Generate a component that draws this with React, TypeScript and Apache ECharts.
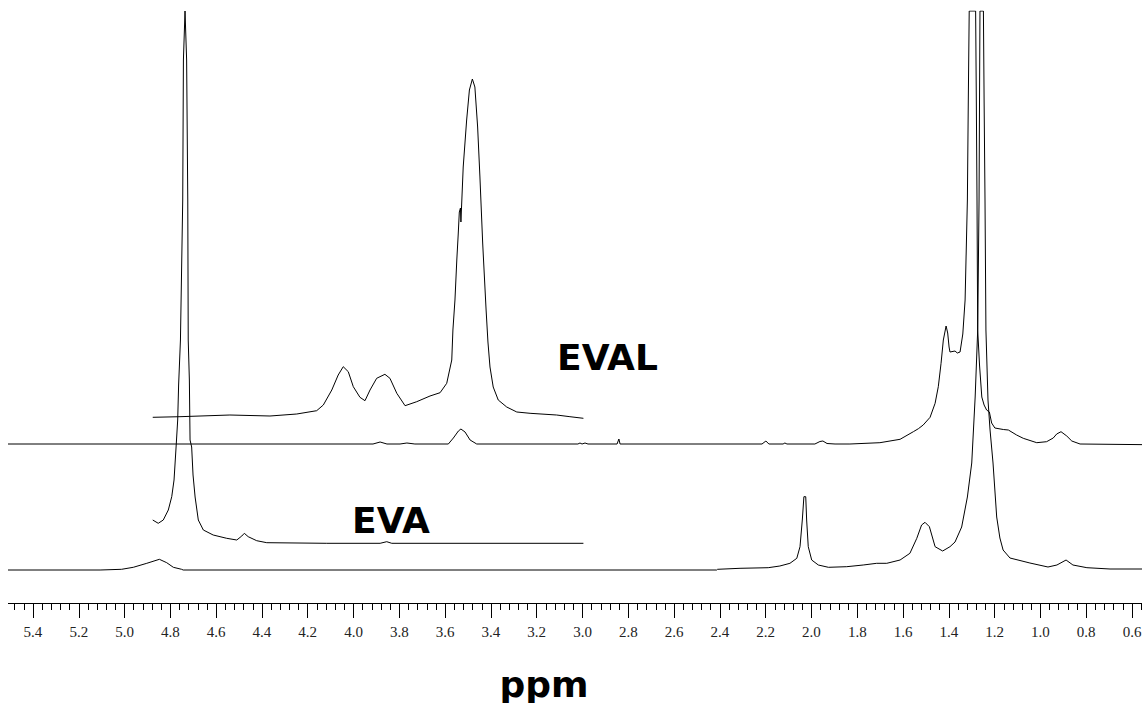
import React, { useEffect, useRef } from "react";
import * as echarts from "echarts";

// x-axis (ppm) tick settings
const xMin = 0.4;
const xMax = 5.6;
const xInterval = 0.2;

// EVAL full spectrum
const evalMainPpm = [5.6, 3.915, 3.884, 3.854, 3.797, 3.767, 3.732, 3.586, 3.564, 3.542, 3.531, 3.513, 3.491, 3.462, 3.02, 3.011, 3.002, 2.989, 2.976, 2.849, 2.841, 2.836, 2.216, 2.199, 2.186, 2.124, 2.116, 2.107, 1.985, 1.963, 1.95, 1.932, 1.897, 1.832, 1.701, 1.613, 1.555, 1.533, 1.512, 1.482, 1.46, 1.446, 1.434, 1.424, 1.412, 1.405, 1.399, 1.395, 1.373, 1.363, 1.351, 1.339, 1.329, 1.319, 1.315, 1.311, 1.283, 1.28, 1.277, 1.274, 1.266, 1.256, 1.246, 1.235, 1.223, 1.213, 1.199, 1.162, 1.14, 1.104, 1.075, 1.016, 0.973, 0.944, 0.929, 0.91, 0.885, 0.863, 0.827, 0.4];
const evalMainInt = [0, 0, 2, 0, 0, 1, 0, 0, 6, 13, 15, 12, 4, 0, 0, 1, 0, 1, 0, 0, 5, 0, 0, 3, 0, 0, 1, 0, 0, 2.5, 3, 0.5, 0, 0, 1.3, 4.7, 12.3, 15.3, 19, 26.7, 40.7, 57.3, 80.7, 104, 118, 111, 97, 92, 93, 91, 92, 110, 144, 244, 344, 433, 433, 344, 244, 114, 79, 47, 39, 34, 32, 21, 16, 14.5, 14, 9, 5.7, 1.3, 2.3, 6, 10, 12.3, 8, 3, 0, -1];

// EVAL expanded region (4.9 - 3.0 ppm)
const evalInsetPpm = [4.877, 4.758, 4.54, 4.365, 4.248, 4.161, 4.132, 4.095, 4.067, 4.045, 4.023, 4.001, 3.972, 3.95, 3.928, 3.899, 3.863, 3.841, 3.811, 3.775, 3.724, 3.666, 3.622, 3.593, 3.571, 3.566, 3.557, 3.549, 3.543, 3.538, 3.533, 3.531, 3.527, 3.521, 3.506, 3.494, 3.481, 3.47, 3.458, 3.448, 3.436, 3.421, 3.413, 3.404, 3.39, 3.368, 3.331, 3.287, 3.229, 3.113, 3.055, 2.996];
const evalInsetInt = [-0.3, 0.3, 2, 1, 3, 6.3, 12, 27, 42, 50.3, 45.3, 30.3, 19.7, 16.3, 27, 38.7, 42.7, 38.7, 23.7, 11.3, 15.3, 21, 24.3, 33.7, 57, 87, 117, 157, 182, 205, 209, 195, 217, 250, 297, 327, 338, 330, 290, 240, 174, 107, 75, 50, 30, 17, 10, 5, 3.7, 2, 0.3, -1.3];

// EVA full spectrum
const evaMainPpm = [5.6, 5.107, 5.013, 4.962, 4.903, 4.848, 4.816, 4.787, 4.751, 4.744, 2.414, 2.41, 2.312, 2.189, 2.138, 2.094, 2.064, 2.05, 2.04, 2.033, 2.025, 2.021, 2.014, 1.999, 1.97, 1.926, 1.846, 1.774, 1.715, 1.671, 1.613, 1.57, 1.54, 1.519, 1.504, 1.485, 1.46, 1.427, 1.395, 1.373, 1.344, 1.319, 1.3, 1.285, 1.274, 1.268, 1.266, 1.264, 1.249, 1.246, 1.242, 1.238, 1.229, 1.22, 1.207, 1.191, 1.177, 1.163, 1.133, 1.046, 0.967, 0.928, 0.888, 0.858, 0.797, 0.696, 0.4];
const evaMainInt = [0, 0, 0.7, 2.7, 6.7, 10.7, 7.3, 2.7, 0.7, 0, 0, 0.7, 1.7, 2.3, 4, 6.7, 11.7, 23.3, 50, 73.3, 73.3, 50, 23.3, 10, 5, 2.7, 3.3, 5, 6.7, 6.7, 10, 16.7, 31.7, 45, 47.7, 43.3, 23.3, 19, 23.3, 28, 43, 73, 107, 173, 240, 370, 470, 559, 559, 470, 370, 240, 170, 140, 107, 53, 32, 20, 12, 7, 3, 5, 10, 5, 2.3, 1, 1];

// EVA expanded region (4.9 - 3.0 ppm)
const evaInsetPpm = [4.877, 4.853, 4.831, 4.809, 4.794, 4.784, 4.775, 4.768, 4.764, 4.756, 4.746, 4.743, 4.736, 4.729, 4.724, 4.722, 4.717, 4.714, 4.707, 4.701, 4.692, 4.678, 4.656, 4.613, 4.554, 4.51, 4.488, 4.477, 4.46, 4.423, 4.379, 4.117, 3.884, 3.855, 3.833, 2.996];
const evaInsetInt = [23.5, 20.2, 23.5, 33.5, 46.8, 63.5, 96.5, 123.5, 158.5, 203.5, 343.5, 483.5, 532.5, 483.5, 343.5, 203.5, 163.5, 103.5, 96.5, 68.5, 46.5, 23.5, 13.5, 8.5, 5.2, 3.5, 7.5, 10.2, 6.8, 2.8, 0.8, 0.2, 0.2, 1.8, 0.2, 0.2];

// vertical stacking offsets of each trace (intensity units)
const traceOffsets = { evalMain: 159, evalInset: 186, evaMain: 33, evaInset: 59.5 };
const yMax = 592;

const build = (ppm: number[], vals: number[], off: number) =>
  ppm.map((p, i) => [p, vals[i] + off]);

const labelFont = "bold 36px 'DejaVu Sans'";

export default function App() {
  const ref = useRef<HTMLDivElement>(null);
  useEffect(() => {
    if (!ref.current) return;
    const chart = echarts.init(ref.current, null, { renderer: "svg" });
    const lineSeries = (name: string, data: number[][]) => ({
      name,
      type: "line",
      data,
      symbol: "none",
      showSymbol: false,
      silent: true,
      clip: true,
      lineStyle: { color: "#000", width: 1 },
    });
    chart.setOption({
      animation: false,
      backgroundColor: "#fff",
      grid: {
        left: -20.8,
        top: 11,
        width: 1190.6,
        height: 592,
        containLabel: false,
        outerBoundsMode: "none",
      },
      xAxis: {
        type: "value",
        min: xMin,
        max: xMax,
        interval: xInterval,
        inverse: true,
        axisLine: { show: true, lineStyle: { color: "#000", width: 1 } },
        axisTick: { show: true, length: 15, lineStyle: { color: "#000", width: 1 } },
        minorTick: { show: true, splitNumber: 5, length: 7, lineStyle: { color: "#000", width: 1 } },
        splitLine: { show: false },
        minorSplitLine: { show: false },
        axisLabel: {
          margin: 21,
          fontFamily: "'Liberation Serif', 'Times New Roman', serif",
          fontSize: 15,
          color: "#222",
          showMinLabel: false,
          showMaxLabel: false,
          formatter: (v: number) => v.toFixed(1),
        },
      },
      yAxis: { type: "value", min: 0, max: yMax, show: false },
      series: [
        lineSeries("EVAL", build(evalMainPpm, evalMainInt, traceOffsets.evalMain)),
        lineSeries("EVAL expanded", build(evalInsetPpm, evalInsetInt, traceOffsets.evalInset)),
        lineSeries("EVA", build(evaMainPpm, evaMainInt, traceOffsets.evaMain)),
        lineSeries("EVA expanded", build(evaInsetPpm, evaInsetInt, traceOffsets.evaInset)),
      ],
      graphic: [
        {
          type: "text",
          x: 599.5,
          y: 357,
          style: { text: "EVAL", font: labelFont, fill: "#000", textAlign: "center", textVerticalAlign: "middle" },
        },
        {
          type: "text",
          x: 383,
          y: 520.5,
          style: { text: "EVA", font: labelFont, fill: "#000", textAlign: "center", textVerticalAlign: "middle" },
        },
        {
          type: "text",
          x: 536,
          y: 684,
          style: { text: "ppm", font: labelFont, fill: "#000", textAlign: "center", textVerticalAlign: "middle" },
        },
      ],
    });
    return () => chart.dispose();
  }, []);
  return (
    <div
      ref={ref}
      style={{ position: "absolute", left: 8, top: 0, width: 1134, height: 703, overflow: "hidden" }}
    />
  );
}
